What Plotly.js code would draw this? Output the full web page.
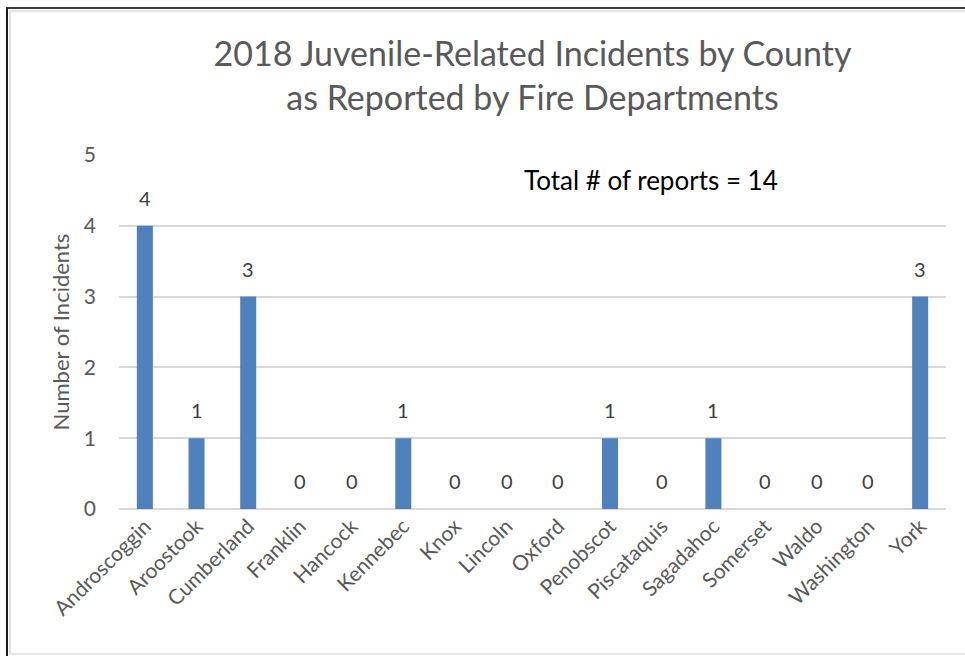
<!DOCTYPE html>
<html>
<head>
<meta charset="utf-8">
<script src="https://cdn.plot.ly/plotly-3.0.1.min.js"></script>
<style>
html,body{margin:0;padding:0;background:#fff;}
#wrap{position:relative;width:965px;height:656px;}
#chart{position:absolute;left:0;top:0;width:965px;height:656px;}
#frame{position:absolute;left:6px;top:7px;width:965px;height:660px;border-top:2px solid #3a3a3a;border-left:2px solid #1a1a1a;pointer-events:none;box-sizing:border-box;}
#inner{position:absolute;left:9px;top:10px;width:960px;height:645px;border-top:2px solid #e2e2e2;border-left:2px solid #e2e2e2;border-bottom:2px solid #e6e6e6;pointer-events:none;box-sizing:border-box;}
</style>
</head>
<body>
<div id="wrap">
<div id="chart"></div>
<div id="inner"></div>
<div id="frame"></div>
</div>
<script>
const counties = ["Androscoggin","Aroostook","Cumberland","Franklin","Hancock","Kennebec","Knox","Lincoln","Oxford","Penobscot","Piscataquis","Sagadahoc","Somerset","Waldo","Washington","York"];
const incidents = [4,1,3,0,0,1,0,0,0,1,0,1,0,0,0,3];
const yTicks = [0,1,2,3,4,5];
const titleText = "2018 Juvenile-Related Incidents by County<br>as Reported by Fire Departments";
const yTitle = "Number of Incidents";
const noteText = "Total # of reports = 14";

const FONT = "Lato, 'Open Sans', sans-serif";

const labelAnnotations = counties.map((c, i) => ({
  x: c, y: incidents[i], xref: 'x', yref: 'y',
  text: String(incidents[i]), showarrow: false,
  yanchor: 'bottom', yshift: 14,
  font: {family: FONT, size: 20, color: '#404040'}
}));

const data = [{
  type: 'bar',
  x: counties,
  y: incidents,
  marker: {color: '#4F81BD'},
  hoverinfo: 'x+y'
}];

const layout = {
  width: 965, height: 656,
  paper_bgcolor: '#ffffff', plot_bgcolor: '#ffffff',
  margin: {l: 119, r: 19, t: 155, b: 147},
  bargap: 0.69,
  showlegend: false,
  title: {
    text: titleText,
    font: {family: FONT, size: 34, color: '#595959'},
    x: 0.5, xanchor: 'center', xref: 'paper',
    y: 0.9, yanchor: 'middle'
  },
  xaxis: {
    type: 'category',
    tickangle: -45,
    tickfont: {family: FONT, size: 21, color: '#595959'},
    showgrid: false, zeroline: false, showline: false,
    ticks: '', ticklen: 0
  },
  yaxis: {
    range: [0, 5],
    tickvals: yTicks,
    ticktext: yTicks.map(String),
    tickfont: {family: FONT, size: 21, color: '#595959'},
    showgrid: true, gridcolor: '#d9d9d9', gridwidth: 2,
    zeroline: true, zerolinecolor: '#d9d9d9', zerolinewidth: 2,
    showline: false, ticks: '', ticklabelstandoff: 22,
    title: {text: yTitle, font: {family: FONT, size: 22, color: '#595959'}, standoff: 8}
  },
  annotations: labelAnnotations.concat([{
    xref: 'paper', yref: 'y', x: 0.643, y: 4.65,
    text: noteText, showarrow: false,
    xanchor: 'center', yanchor: 'middle',
    font: {family: FONT, size: 26, color: '#000000'}
  }])
};

Plotly.newPlot('chart', data, layout, {displayModeBar: false, staticPlot: true});
</script>
</body>
</html>
